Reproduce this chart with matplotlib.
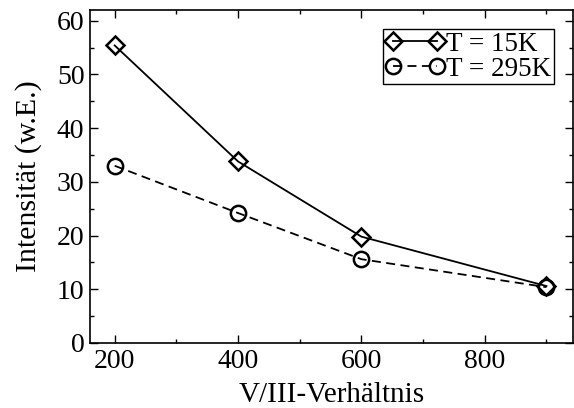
import matplotlib
matplotlib.use("Agg")
import matplotlib.pyplot as plt
from matplotlib.ticker import MultipleLocator

plt.rcParams['font.family'] = ['Liberation Serif', 'DejaVu Serif']

# data
ratio = [200, 400, 600, 900]
int_15k = [55.4, 33.8, 19.8, 10.6]
int_295k = [33.0, 24.2, 15.6, 10.4]

fig = plt.figure(figsize=(5.74, 4.08), dpi=100)
ax = fig.add_axes([90 / 574, 1 - 343 / 408, (573 - 90) / 574, (343 - 10) / 408])

ax.plot(ratio, int_15k, color='black', lw=1.3, ls='-', marker='D', ms=9,
        mfc='none', mec='black', mew=1.8, label='T = 15K')
ax.plot(ratio, int_295k, color='black', lw=1.3, ls=(0, (5, 3)), marker='o', ms=11,
        mfc='none', mec='black', mew=1.8, label='T = 295K')

ax.set_xlim(160, 943)
ax.set_ylim(0, 62)
ax.xaxis.set_major_locator(MultipleLocator(200))
ax.xaxis.set_minor_locator(MultipleLocator(100))
ax.yaxis.set_major_locator(MultipleLocator(10))
ax.yaxis.set_minor_locator(MultipleLocator(5))
ax.tick_params(which='both', direction='in', top=True, right=True, labelsize=20, pad=4)
ax.tick_params(which='major', length=6, width=1)
ax.tick_params(which='minor', length=3, width=1)
for s in ax.spines.values():
    s.set_linewidth(1.2)

ax.set_xlabel('V/III-Verhältnis', fontsize=21, labelpad=6)
ax.set_ylabel('Intensität (w.E.)', fontsize=21.5, labelpad=11)

leg = ax.legend(loc='upper right', fontsize=19.5, numpoints=2, handlelength=2.2,
                handletextpad=0.05, borderpad=0.1, labelspacing=0.0,
                fancybox=False, framealpha=1, borderaxespad=0.7)
leg.get_frame().set_edgecolor('black')
leg.get_frame().set_linewidth(1.0)

fig.savefig('out.png', dpi=100)
